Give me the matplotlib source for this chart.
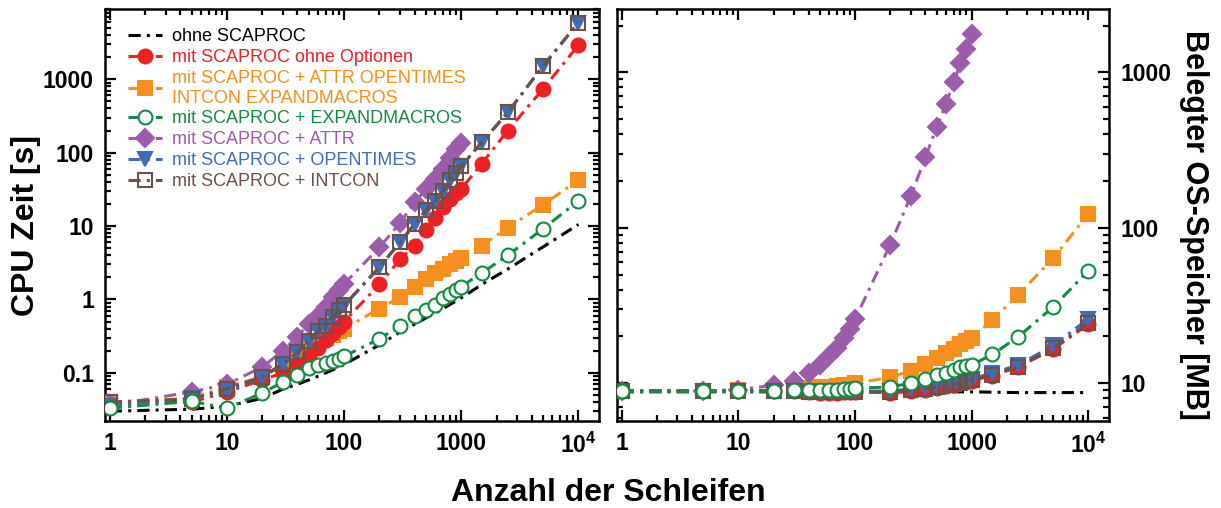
import numpy as np
import matplotlib
matplotlib.use("Agg")
import matplotlib.pyplot as plt
from matplotlib.ticker import FixedLocator, FixedFormatter, LogLocator, NullFormatter

plt.rcParams.update({
    "font.family": ["Liberation Sans", "DejaVu Sans"],
    "mathtext.fontset": "custom",
    "mathtext.rm": "Liberation Sans",
    "mathtext.bf": "Liberation Sans:bold",
    "axes.linewidth": 1.8,
})

# Anzahl der Schleifen
loops = [1, 5, 10, 20, 30, 40, 50, 60, 70, 80, 90, 100, 200, 300, 400, 500,
         600, 700, 800, 900, 1000, 1500, 2500, 5000, 10000]
loops_attr = loops[:21]  # ATTR-Serie endet bei 1000

# CPU Zeit [s]
cpu_ohne = [0.030, 0.032, 0.035, 0.045, 0.060, 0.070, 0.080, 0.090, 0.100, 0.110, 0.120, 0.130,
            0.24, 0.36, 0.46, 0.56, 0.65, 0.75, 0.85, 0.95, 1.05, 1.6, 2.6, 5.2, 10.5]
cpu_mit = [0.038, 0.040, 0.055, 0.080, 0.100, 0.130, 0.17, 0.22, 0.28, 0.35, 0.42, 0.50,
           1.6, 3.5, 5.4, 8.7, 13.0, 18.0, 23.0, 28.0, 32.0, 71.0, 200.0, 740.0, 2900.0]
cpu_alle = [0.040, 0.045, 0.065, 0.088, 0.126, 0.19, 0.23, 0.26, 0.30, 0.33, 0.37, 0.40,
            0.75, 1.07, 1.47, 1.9, 2.3, 2.6, 3.0, 3.3, 3.7, 5.4, 9.5, 19.6, 42.0]
cpu_expand = [0.033, 0.041, 0.033, 0.053, 0.075, 0.094, 0.117, 0.126, 0.136, 0.145, 0.155, 0.168,
              0.29, 0.44, 0.60, 0.71, 0.83, 1.05, 1.2, 1.35, 1.5, 2.3, 4.0, 9.2, 22.0]
cpu_attr = [0.036, 0.055, 0.070, 0.12, 0.20, 0.31, 0.47, 0.60, 0.79, 1.07, 1.33, 1.63,
            5.1, 11.0, 21.0, 32.0, 44.0, 60.0, 85.0, 113.0, 135.0]
cpu_opentimes = [0.035, 0.045, 0.057, 0.088, 0.133, 0.19, 0.27, 0.37, 0.44, 0.57, 0.71, 0.83,
                 2.75, 6.0, 10.7, 16.3, 22.0, 30.0, 42.0, 52.0, 66.0, 138.0, 354.0, 1520.0, 5900.0]
cpu_intcon = [0.040, 0.044, 0.061, 0.088, 0.133, 0.19, 0.27, 0.37, 0.44, 0.57, 0.71, 0.83,
              2.75, 6.0, 10.7, 16.3, 22.0, 30.0, 42.0, 52.0, 66.0, 138.0, 354.0, 1520.0, 5900.0]

# Belegter OS-Speicher [MB]
mem_ohne = [8.8, 8.8, 8.8, 8.8, 8.8, 8.8, 8.8, 8.8, 8.8, 8.8, 8.8, 8.8,
            8.8, 8.8, 8.8, 8.8, 8.8, 8.8, 8.8, 8.8, 8.8, 8.75, 8.7, 8.7, 8.7]
mem_mit = [8.9, 8.9, 8.9, 8.9, 8.9, 8.8, 8.7, 8.7, 8.7, 8.8, 8.8, 8.8,
           8.7, 8.9, 9.1, 9.3, 9.6, 9.8, 10.0, 10.2, 10.4, 11.2, 12.7, 16.6, 24.0]
mem_alle = [8.9, 8.9, 9.0, 9.0, 9.2, 9.3, 9.4, 9.5, 9.6, 9.7, 9.8, 10.0,
            10.9, 12.0, 13.2, 14.6, 15.7, 16.7, 17.9, 18.8, 19.6, 25.5, 37.0, 64.0, 123.0]
mem_expand = [8.9, 8.9, 8.9, 8.9, 9.0, 9.0, 9.0, 9.1, 9.1, 9.2, 9.2, 9.3,
              9.45, 10.0, 10.7, 11.3, 11.6, 12.2, 12.7, 12.9, 13.1, 15.3, 19.9, 31.0, 53.0]
mem_attr = [8.9, 8.9, 9.1, 9.7, 10.3, 11.6, 13.0, 14.9, 16.9, 19.6, 22.3, 25.8,
            78.0, 160.0, 284.0, 443.0, 626.0, 870.0, 1140.0, 1410.0, 1770.0]
mem_opentimes = [8.9, 8.9, 8.9, 8.9, 8.9, 8.9, 8.9, 8.9, 8.9, 8.9, 8.9, 8.9,
                 8.9, 9.2, 9.4, 9.65, 9.9, 10.1, 10.3, 10.5, 10.7, 11.6, 13.1, 17.5, 26.0]
mem_intcon = [8.9, 8.9, 8.9, 8.9, 8.9, 8.8, 8.8, 8.8, 8.8, 8.8, 8.8, 8.8,
              8.8, 9.0, 9.2, 9.45, 9.7, 9.9, 10.1, 10.3, 10.5, 11.3, 12.8, 16.8, 24.5]

labels = [
    "ohne SCAPROC",
    "mit SCAPROC ohne Optionen",
    "mit SCAPROC + ATTR OPENTIMES\nINTCON EXPANDMACROS",
    "mit SCAPROC + EXPANDMACROS",
    "mit SCAPROC + ATTR",
    "mit SCAPROC + OPENTIMES",
    "mit SCAPROC + INTCON",
]
colors = ["#000000", "#ED2024", "#F58F1F", "#138B43", "#9B5DA9", "#3F6CB4", "#6B5149"]

x_ticks = [1, 10, 100, 1000, 10000]
x_ticklabels = ["1", "10", "100", "1000", r"$\mathbf{10^4}$"]

DASH = (4, 2, 1, 2)


def draw_series(ax, cpu_or_mem):
    (ohne, mit, alle, expand, attr, opentimes, intcon) = cpu_or_mem
    handles = []
    # (x, y, marker, facecolor, size, zorder)
    specs = [
        (loops, ohne, None, None, 0, 2),
        (loops, mit, "o", colors[1], 10, 4),
        (loops, alle, "s", colors[2], 9.5, 3),
        (loops, expand, "o", "white", 10, 8),
        (loops_attr, attr, "D", colors[4], 9, 5),
        (loops, opentimes, "v", colors[5], 10, 6),
        (loops, intcon, "s", "none", 10, 7),
    ]
    for i, (xs, ys, mk, fc, ms, z) in enumerate(specs):
        h, = ax.plot(xs, ys, color=colors[i], lw=2.2, dashes=DASH,
                     marker=mk, markersize=ms, markerfacecolor=fc,
                     markeredgecolor=colors[i], markeredgewidth=1.5,
                     label=labels[i], zorder=z)
        handles.append(h)
    return handles


def style_axes(ax):
    ax.set_xscale("log")
    ax.set_yscale("log")
    ax.set_xlim(0.91, 1.5e4)
    ax.xaxis.set_major_locator(FixedLocator(x_ticks))
    ax.xaxis.set_major_formatter(FixedFormatter(x_ticklabels))
    ax.xaxis.set_minor_locator(LogLocator(base=10, subs=np.arange(2, 10)))
    ax.xaxis.set_minor_formatter(NullFormatter())
    ax.yaxis.set_minor_locator(LogLocator(base=10, subs=np.arange(2, 10)))
    ax.yaxis.set_minor_formatter(NullFormatter())
    ax.tick_params(which="both", direction="in", top=True, right=True, width=1.6)
    ax.tick_params(which="major", length=8, labelsize=16.5, pad=8)
    ax.tick_params(which="minor", length=4.5)
    for lab in ax.get_xticklabels() + ax.get_yticklabels():
        lab.set_fontweight("bold")


fig = plt.figure(figsize=(12.21, 5.08), dpi=100)
ax1 = fig.add_axes([0.086, 0.171, 0.4046, 0.811])
ax2 = fig.add_axes([0.5053, 0.171, 0.403, 0.811])

# linkes Diagramm: CPU Zeit
handles = draw_series(ax1, (cpu_ohne, cpu_mit, cpu_alle, cpu_expand, cpu_attr, cpu_opentimes, cpu_intcon))
style_axes(ax1)
ax1.set_ylim(0.022, 9000)
ax1.yaxis.set_major_locator(FixedLocator([0.1, 1, 10, 100, 1000]))
ax1.yaxis.set_major_formatter(FixedFormatter(["0.1", "1", "10", "100", "1000"]))
for lab in ax1.get_yticklabels():
    lab.set_fontweight("bold")
fig.text(0.021, 0.557, "CPU Zeit [s]", rotation=90, ha="center", va="center",
         fontsize=23, fontweight="bold")

leg = ax1.legend(handles=handles, loc="upper left", frameon=False, fontsize=13,
                 handlelength=1.9, handletextpad=0.55, labelspacing=0.22,
                 borderaxespad=0.3, bbox_to_anchor=(0.02, 0.985))
for txt, c in zip(leg.get_texts(), colors):
    txt.set_color(c)

# rechtes Diagramm: Speicher
draw_series(ax2, (mem_ohne, mem_mit, mem_alle, mem_expand, mem_attr, mem_opentimes, mem_intcon))
style_axes(ax2)
ax2.set_ylim(5.7, 2550)
ax2.yaxis.set_major_locator(FixedLocator([10, 100, 1000]))
ax2.yaxis.set_major_formatter(FixedFormatter(["10", "100", "1000"]))
ax2.tick_params(axis="y", which="both", labelleft=False, labelright=True)
for lab in ax2.get_yticklabels():
    lab.set_fontweight("bold")
fig.text(0.978, 0.557, "Belegter OS-Speicher [MB]", rotation=270, ha="center", va="center",
         fontsize=22, fontweight="bold")

fig.text(0.498, 0.03, "Anzahl der Schleifen", ha="center", va="center",
         fontsize=23, fontweight="bold")

fig.savefig("out.png", dpi=100)
